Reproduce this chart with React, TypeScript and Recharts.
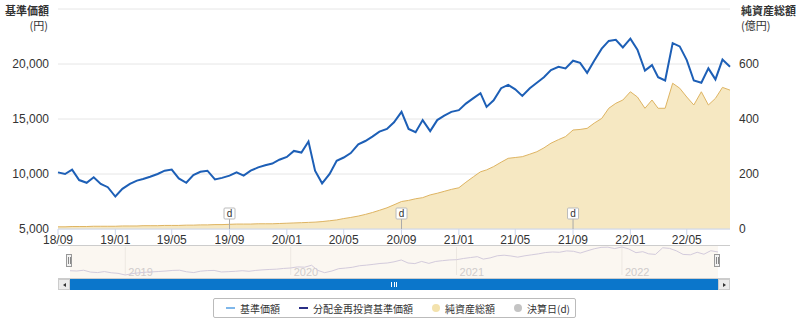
import React from 'react';
import {
    ComposedChart,
    LineChart,
    Line,
    Area,
    XAxis,
    YAxis,
    CartesianGrid,
    ReferenceDot,
    ReferenceLine
} from 'recharts';

// 基準価額 (円), half-monthly readings from 2018-09-01 to 2022-08-01
const navValues = [
    10150, 10000, 10400, 9450, 9200, 9700, 9100, 8800, 7950, 8650,
    9100, 9400, 9550, 9750, 10000, 10300, 10400, 9600, 9200, 9900,
    10200, 10300, 9500, 9650, 9850, 10150, 9850, 10300, 10600, 10800,
    10950, 11300, 11550, 12100, 11950, 12950, 10300, 9150, 10000, 11200,
    11500, 11900, 12700, 13000, 13400, 13850, 14100, 14700, 15650, 14100,
    13800, 14900, 13900, 14900, 15300, 15650, 15800, 16400, 16900, 17350,
    16100, 16700, 17800, 18100, 17700, 17100, 17800, 18300, 18800, 19450,
    19750, 19600, 20300, 20100, 19200, 20300, 21400, 22100, 22200, 21500,
    22300, 21300, 19400, 19900, 18800, 18500, 21900, 21600, 20350, 18500,
    18300, 19600, 18600, 20400, 19750
];

// 純資産総額 (億円)
const netAssets = [
    8, 8, 9, 9, 9, 10, 10, 10, 10, 11,
    11, 11, 12, 12, 12, 13, 13, 13, 14, 14,
    15, 15, 16, 16, 17, 18, 18, 18, 19, 19,
    19, 20, 21, 22, 23, 24, 25, 27, 30, 33,
    38, 42, 47, 53, 60, 68, 77, 88, 100, 104,
    110, 114, 124, 130, 137, 144, 150, 170, 190, 208,
    215, 227, 243, 257, 260, 263, 272, 281, 295, 312,
    325, 336, 360, 362, 366, 385, 402, 439, 457, 469,
    499, 480, 439, 469, 439, 439, 530, 512, 480, 451,
    499, 451, 475, 515, 505
];

const xTickLabels = ['18/09', '19/01', '19/05', '19/09', '20/01', '20/05', '20/09', '21/01', '21/05', '21/09', '22/01', '22/05'];
const settleDates = ['2019-09-01', '2020-09-01', '2021-09-01'];
const navYears = ['2019', '2020', '2021', '2022'];
const leftTicks = [5000, 10000, 15000, 20000, 25000];
const rightTicks = [0, 200, 400, 600, 800];

const FONT = '"Liberation Sans", "Noto Sans CJK JP", sans-serif';
const JP = '"Noto Sans CJK JP", sans-serif';

const dates = navValues.map((_, i) => Date.UTC(2018, 8 + Math.floor(i / 2), i % 2 ? 16 : 1));
const data = navValues.map((v, i) => ({ t: dates[i], nav: v, assets: netAssets[i] }));
const xTicks = xTickLabels.map((s) => Date.UTC(2000 + Number(s.slice(0, 2)), Number(s.slice(3)) - 1, 1));
const domain = [dates[0], dates[dates.length - 1]];

const fmtTick = (t: number) => {
    const d = new Date(t);
    return `${String(d.getUTCFullYear()).slice(2)}/${String(d.getUTCMonth() + 1).padStart(2, '0')}`;
};

const parseDate = (s: string) => {
    const [y, m, d] = s.split('-').map(Number);
    return Date.UTC(y, m - 1, d);
};

const Flag = (props: any) => {
    const { cx, cy } = props;
    return (
        <g>
            <line x1={cx} x2={cx} y1={cy - 10} y2={cy} stroke="#aaa" strokeWidth={1} />
            <rect x={cx - 5.5} y={cy - 21} width={11} height={11} fill="#fff" stroke="#bbb" rx={1} />
            <text x={cx} y={cy - 12} textAnchor="middle" fontSize={10} fill="#333" fontFamily={FONT}>d</text>
        </g>
    );
};

const LegendItem = ({ kind, color, label }: { kind: 'line' | 'dot'; color: string; label: string }) => (
    <div style={{ display: 'flex', alignItems: 'center', marginRight: 19, whiteSpace: 'nowrap', flexShrink: 0 }}>
        {kind === 'line' ? (
            <div style={{ width: 9, height: 2, background: color, marginRight: 5 }} />
        ) : (
            <div style={{ width: 8, height: 8, borderRadius: 4, background: color, marginRight: 5 }} />
        )}
        <span>{label}</span>
    </div>
);

const App = () => {
    return (
        <div style={{ position: 'absolute', left: 0, top: 0, width: 800, height: 319, background: '#fff', fontFamily: FONT }}>
            {/* axis titles */}
            <div style={{ position: 'absolute', left: 5, top: 2, fontSize: 11, fontWeight: 700, fontFamily: JP, color: '#333' }}>基準価額</div>
            <div style={{ position: 'absolute', right: 752, top: 17, fontSize: 11, fontFamily: JP, color: '#333' }}>(円)</div>
            <div style={{ position: 'absolute', left: 741, top: 2, fontSize: 11, fontWeight: 700, fontFamily: JP, color: '#333' }}>純資産総額</div>
            <div style={{ position: 'absolute', left: 741, top: 17, fontSize: 11, fontFamily: JP, color: '#333' }}>(億円)</div>

            <div style={{ position: 'absolute', left: 0, top: 0 }}>
                <ComposedChart width={800} height={252} data={data} margin={{ top: 9, right: 0, bottom: 0, left: 0 }}>
                    <CartesianGrid yAxisId="left" vertical={false} stroke="#e6e6e6" />
                    <XAxis
                        dataKey="t"
                        type="number"
                        scale="time"
                        domain={domain}
                        ticks={xTicks}
                        tickFormatter={fmtTick}
                        height={23}
                        stroke="#ccd6eb"
                        tickSize={6}
                        tickMargin={0}
                        tick={{ fill: '#333', fontSize: 12, fontFamily: FONT }}
                        interval={0}
                    />
                    <YAxis
                        yAxisId="left"
                        domain={[5000, 25000]}
                        ticks={leftTicks}
                        width={58}
                        axisLine={false}
                        tickLine={false}
                        tickSize={0}
                        tickMargin={9}
                        tickFormatter={(v: number) => (v === 25000 ? '' : v.toLocaleString('en-US'))}
                        tick={{ fill: '#333', fontSize: 12, fontFamily: FONT }}
                    />
                    <YAxis
                        yAxisId="right"
                        orientation="right"
                        domain={[0, 800]}
                        ticks={rightTicks}
                        width={70}
                        axisLine={false}
                        tickLine={false}
                        tickSize={0}
                        tickMargin={9}
                        tickFormatter={(v: number) => (v === 800 ? '' : String(v))}
                        tick={{ fill: '#333', fontSize: 12, fontFamily: FONT }}
                    />
                    <Area
                        yAxisId="right"
                        dataKey="assets"
                        type="linear"
                        stroke="#deb462"
                        strokeWidth={1}
                        fill="#f6e8c2"
                        fillOpacity={1}
                        isAnimationActive={false}
                    />
                    <Line
                        yAxisId="left"
                        dataKey="nav"
                        type="linear"
                        stroke="#1d5fb6"
                        strokeWidth={2}
                        dot={false}
                        isAnimationActive={false}
                    />
                    {settleDates.map((s) => (
                        <ReferenceDot key={s} yAxisId="right" x={parseDate(s)} y={0} shape={<Flag />} ifOverflow="visible" />
                    ))}
                </ComposedChart>
            </div>

            {/* navigator */}
            <div style={{ position: 'absolute', left: 58, top: 245, width: 672, height: 0, borderTop: '1px solid #ccc' }} />
            <div style={{ position: 'absolute', left: 70, top: 246, width: 648, height: 32, background: '#fbf7f1' }} />
            <div style={{ position: 'absolute', left: 0, top: 245 }}>
                <LineChart width={800} height={33} data={data} margin={{ top: 2, right: 82, bottom: 3, left: 70 }}>
                    <XAxis dataKey="t" type="number" scale="time" domain={domain} hide />
                    <YAxis domain={['dataMin', 'dataMax']} hide />
                    {navYears.map((y) => (
                        <ReferenceLine
                            key={y}
                            x={Date.UTC(Number(y), 0, 1)}
                            stroke="#ede8e2"
                            label={(p: any) => (
                                <text x={p.viewBox.x + 3} y={31} fontSize={11} fill="#d0cccc" fontFamily={FONT}>{y}</text>
                            )}
                        />
                    ))}
                    <Line dataKey="nav" type="linear" stroke="#d3cbdc" strokeWidth={1} dot={false} isAnimationActive={false} />
                </LineChart>
            </div>
            {/* handles */}
            {[66, 714].map((x) => (
                <div key={x} style={{ position: 'absolute', left: x, top: 254, width: 6, height: 13, background: '#f2f2f2', border: '1px solid #999', boxSizing: 'border-box', display: 'flex', justifyContent: 'center', alignItems: 'center', gap: 1 }}>
                    <div style={{ width: 1, height: 7, background: '#888' }} />
                    <div style={{ width: 1, height: 7, background: '#888' }} />
                </div>
            ))}

            {/* scrollbar */}
            <div style={{ position: 'absolute', left: 58, top: 278, width: 672, height: 12, background: '#f2f2f2', borderTop: '1px solid #ccc', boxSizing: 'border-box' }} />
            <div style={{ position: 'absolute', left: 58, top: 279, width: 12, height: 11, background: '#ebebeb', border: '1px solid #ccc', boxSizing: 'border-box', display: 'flex', justifyContent: 'center', alignItems: 'center' }}>
                <div style={{ width: 0, height: 0, borderTop: '2.5px solid transparent', borderBottom: '2.5px solid transparent', borderRight: '3px solid #333' }} />
            </div>
            <div style={{ position: 'absolute', left: 70, top: 279, width: 648, height: 11, background: '#0b76cb', display: 'flex', justifyContent: 'center', alignItems: 'center', gap: 1.5 }}>
                <div style={{ width: 1, height: 5, background: '#fff' }} />
                <div style={{ width: 1, height: 5, background: '#fff' }} />
                <div style={{ width: 1, height: 5, background: '#fff' }} />
            </div>
            <div style={{ position: 'absolute', left: 718, top: 279, width: 12, height: 11, background: '#ebebeb', border: '1px solid #ccc', boxSizing: 'border-box', display: 'flex', justifyContent: 'center', alignItems: 'center' }}>
                <div style={{ width: 0, height: 0, borderTop: '2.5px solid transparent', borderBottom: '2.5px solid transparent', borderLeft: '3px solid #333' }} />
            </div>

            {/* legend */}
            <div style={{ position: 'absolute', left: 213, top: 298, width: 363, height: 20, border: '1px solid #bbb', borderRadius: 2, boxSizing: 'border-box', display: 'flex', alignItems: 'center', paddingLeft: 12, fontSize: 10, fontFamily: JP, color: '#333', overflow: 'hidden' }}>
                <LegendItem kind="line" color="#7fb7ea" label="基準価額" />
                <LegendItem kind="line" color="#2a2f86" label="分配金再投資基準価額" />
                <LegendItem kind="dot" color="#f3e2ad" label="純資産総額" />
                <LegendItem kind="dot" color="#c4c4c4" label="決算日(d)" />
            </div>
        </div>
    );
};

export default App;
